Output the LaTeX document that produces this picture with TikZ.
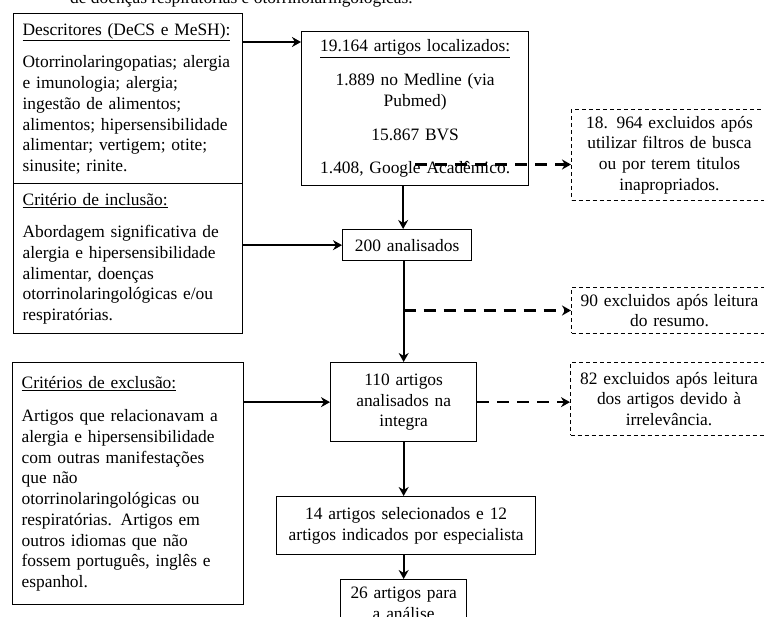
\documentclass[tikz,border=0pt]{standalone}
\usepackage{fontspec}
\setmainfont{Liberation Serif}
\usetikzlibrary{arrows.meta}
\usetikzlibrary{calc}

\begin{document}
\begin{tikzpicture}[>={Stealth[length=9pt,width=10pt]}, x=1pt, y=-1pt,
    txt/.style={font=\fontsize{17.4}{20.7}\selectfont},
    box/.style={txt, draw=black, line width=1.3pt, anchor=north west, inner ysep=0pt},
    leftbox/.style={box, align=left, inner xsep=9pt},
    midbox/.style={box, align=center, inner xsep=2pt},
    exbox/.style={txt, draw=black, line width=1pt, dash pattern=on 4pt off 3pt, anchor=north west, align=center, inner xsep=2pt, inner ysep=0pt},
    arr/.style={->, line width=2pt},
    dasharr/.style={->, line width=2.5pt, dash pattern=on 12pt off 8pt}]
    \useasboundingbox (0,0) rectangle (764,617);
    \clip (0,0) rectangle (764,617);
    % line cut off at the top
    \node[txt, anchor=base west, inner sep=0pt] (head) at (70,4) {de doenças respiratórias e otorrinolaringológicas.};
    % left column
    \node(desc)[leftbox, text width=211pt, minimum height=170pt] at (13,13) {\underline{Descritores (DeCS e MeSH):}\\[12pt]
        Otorrinolaringopatias; alergia\\ e imunologia; alergia;\\ ingestão de alimentos;\\ alimentos; hipersensibilidade\\ alimentar; vertigem; otite;\\ sinusite; rinite.};
    \node(incl)[leftbox, text width=211pt, minimum height=150pt] at (13,183) {\underline{Critério de inclusão:}\\[12pt]
        Abordagem significativa de\\ alergia e hipersensibilidade\\ alimentar, doenças\\ otorrinolaringológicas e/ou\\ respiratórias.};
    \node(excl)[leftbox, text width=213pt, minimum height=242pt] at (12,362) {\underline{Critérios de exclusão:}\\[13pt]
        Artigos que relacionavam a\\ alergia e hipersensibilidade\\ com outras manifestações\\ que não\\ otorrinolaringológicas ou\\ respiratórias. Artigos em\\ outros idiomas que não\\ fossem português, inglês e\\ espanhol.};
    % middle column
    \node(found)[midbox, text width=223pt, minimum height=154pt] at (301,31) {\underline{19.164 artigos localizados:}\\[13pt]
        1.889 no Medline (via\\ Pubmed)\\[13pt] 15.867 BVS\\[13pt] 1.408, Google Acadêmico.};
    \node(anal)[midbox, text width=125pt, minimum height=31pt] at (342,229) {200 analisados};
    \node(integ)[midbox, text width=142pt, minimum height=79pt] at (330,362) {110 artigos\\ analisados na\\ integra};
    \node(sel)[midbox, text width=255pt, minimum height=58pt] at (276,496) {14 artigos selecionados e 12\\ artigos indicados por especialista};
    \node(final)[midbox, text width=122pt, minimum height=48pt] at (340,579) {26 artigos para\\ a análise};
    % right column
    \node(ex1)[exbox, text width=192pt, minimum height=91pt] at (571,109) {18. 964 excluidos após\\ utilizar filtros de busca\\ ou por terem titulos\\ inapropriados.};
    \node(ex2)[exbox, text width=192pt, minimum height=46pt] at (571,287) {90 excluidos após leitura\\ do resumo.};
    \node(ex3)[exbox, text width=193pt, minimum height=73pt] at (570,362) {82 excluidos após leitura\\ dos artigos devido à\\ irrelevância.};
    % connectors
    \coordinate(dn1) at ([xshift=-4pt]anal.north);
    \coordinate(g1) at ([yshift=-9.5pt]ex1.west);
    \draw[arr] ([yshift=-29pt]desc.north east) -- ([yshift=-29pt]desc.north east -| found.west);
    \draw[arr] (dn1 |- found.south) -- (dn1);
    \draw[arr] (incl.east |- anal.west) -- (anal.west);
    \draw[dasharr] (found.center |- g1) -- (g1);
    \draw[arr] (integ.north |- anal.south) -- (integ.north);
    \draw[dasharr] (integ.north |- ex2.west) -- (ex2.west);
    \draw[arr] (excl.east |- integ.west) -- (integ.west);
    \draw[dasharr] (integ.east) -- (integ.east -| ex3.west);
    \draw[arr] (integ.south) -- (integ.south |- sel.north);
    \draw[arr] (final.north |- sel.south) -- (final.north);
\end{tikzpicture}
\end{document}
